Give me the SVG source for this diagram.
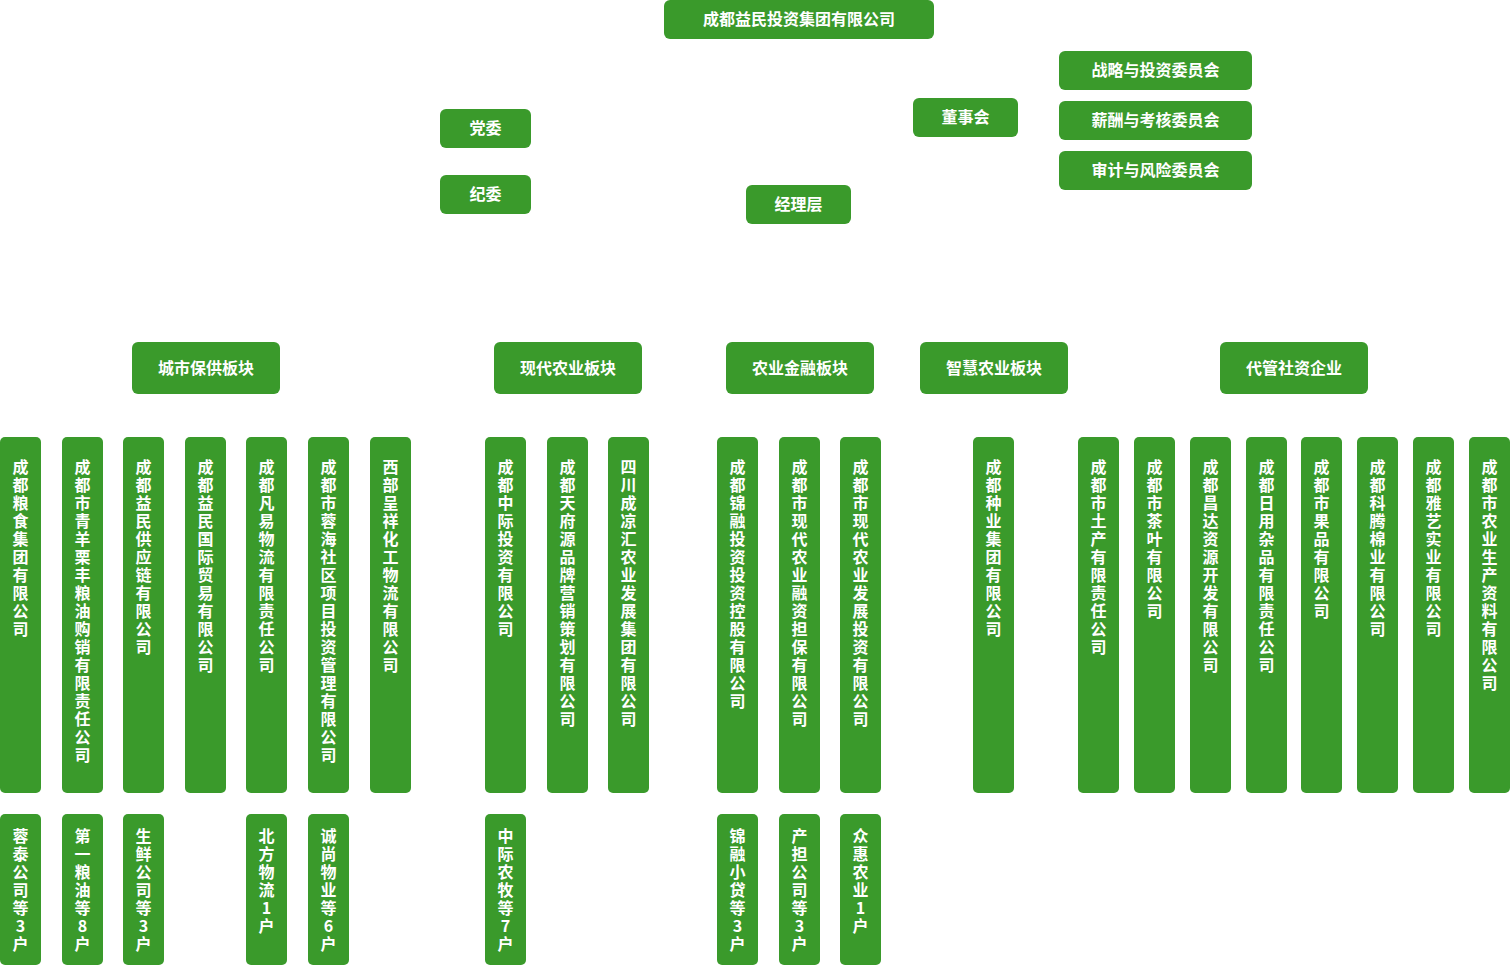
<svg xmlns="http://www.w3.org/2000/svg" width="1510" height="965" viewBox="0 0 1510 965">
<style>
.b{fill:#3a9a2b}
.t{fill:#fff;font-family:"Noto Sans CJK SC","Noto Sans",sans-serif;font-size:16px;font-weight:bold;text-anchor:middle;dominant-baseline:central}
.v{fill:#fff;font-family:"Noto Sans CJK SC","Noto Sans",sans-serif;font-size:16px;font-weight:bold;text-anchor:middle}
</style>
<rect width="1510" height="965" fill="#fff"/>
<g id="connectors"></g>
<g id="group"><rect class="b" x="664" y="0" width="270" height="39" rx="6"/><text class="t" x="799" y="17.5">成都益民投资集团有限公司</text></g>
<g id="dangwei"><rect class="b" x="440" y="109" width="91" height="39" rx="6"/><text class="t" x="485.5" y="126.5">党委</text></g>
<g id="jiwei"><rect class="b" x="440" y="175" width="91" height="39" rx="6"/><text class="t" x="485.5" y="192.5">纪委</text></g>
<g id="jingli"><rect class="b" x="746" y="185" width="105" height="39" rx="6"/><text class="t" x="798.5" y="202.5">经理层</text></g>
<g id="dongshi"><rect class="b" x="913" y="98" width="105" height="39" rx="6"/><text class="t" x="965.5" y="115.5">董事会</text></g>
<g id="zhanlue"><rect class="b" x="1059" y="51" width="193" height="39" rx="6"/><text class="t" x="1155.5" y="68.5">战略与投资委员会</text></g>
<g id="xinchou"><rect class="b" x="1059" y="101" width="193" height="39" rx="6"/><text class="t" x="1155.5" y="118.5">薪酬与考核委员会</text></g>
<g id="shenji"><rect class="b" x="1059" y="151" width="193" height="39" rx="6"/><text class="t" x="1155.5" y="168.5">审计与风险委员会</text></g>

<g id="seg1"><rect class="b" x="132" y="342" width="148" height="52" rx="6"/><text class="t" x="206" y="366.5">城市保供板块</text></g>
<g id="seg2"><rect class="b" x="494" y="342" width="148" height="52" rx="6"/><text class="t" x="568" y="366.5">现代农业板块</text></g>
<g id="seg3"><rect class="b" x="726" y="342" width="148" height="52" rx="6"/><text class="t" x="800" y="366.5">农业金融板块</text></g>
<g id="seg4"><rect class="b" x="920" y="342" width="148" height="52" rx="6"/><text class="t" x="994" y="366.5">智慧农业板块</text></g>
<g id="seg5"><rect class="b" x="1220" y="342" width="148" height="52" rx="6"/><text class="t" x="1294" y="366.5">代管社资企业</text></g>

<g id="c1"><rect class="b" x="0" y="437" width="41" height="356" rx="5"/><text class="v" x="20.5 20.5 20.5 20.5 20.5 20.5 20.5 20.5 20.5 20.5" y="473 491 509 527 545 563 581 599 617 635">成都粮食集团有限公司</text></g>
<g id="c2"><rect class="b" x="62" y="437" width="41" height="356" rx="5"/><text class="v" x="82.5 82.5 82.5 82.5 82.5 82.5 82.5 82.5 82.5 82.5 82.5 82.5 82.5 82.5 82.5 82.5 82.5" y="473 491 509 527 545 563 581 599 617 635 653 671 689 707 725 743 761">成都市青羊栗丰粮油购销有限责任公司</text></g>
<g id="c3"><rect class="b" x="123" y="437" width="41" height="356" rx="5"/><text class="v" x="143.5 143.5 143.5 143.5 143.5 143.5 143.5 143.5 143.5 143.5 143.5" y="473 491 509 527 545 563 581 599 617 635 653">成都益民供应链有限公司</text></g>
<g id="c4"><rect class="b" x="185" y="437" width="41" height="356" rx="5"/><text class="v" x="205.5 205.5 205.5 205.5 205.5 205.5 205.5 205.5 205.5 205.5 205.5 205.5" y="473 491 509 527 545 563 581 599 617 635 653 671">成都益民国际贸易有限公司</text></g>
<g id="c5"><rect class="b" x="246" y="437" width="41" height="356" rx="5"/><text class="v" x="266.5 266.5 266.5 266.5 266.5 266.5 266.5 266.5 266.5 266.5 266.5 266.5" y="473 491 509 527 545 563 581 599 617 635 653 671">成都凡易物流有限责任公司</text></g>
<g id="c6"><rect class="b" x="308" y="437" width="41" height="356" rx="5"/><text class="v" x="328.5 328.5 328.5 328.5 328.5 328.5 328.5 328.5 328.5 328.5 328.5 328.5 328.5 328.5 328.5 328.5 328.5" y="473 491 509 527 545 563 581 599 617 635 653 671 689 707 725 743 761">成都市蓉海社区项目投资管理有限公司</text></g>
<g id="c7"><rect class="b" x="370" y="437" width="41" height="356" rx="5"/><text class="v" x="390.5 390.5 390.5 390.5 390.5 390.5 390.5 390.5 390.5 390.5 390.5 390.5" y="473 491 509 527 545 563 581 599 617 635 653 671">西部呈祥化工物流有限公司</text></g>
<g id="c8"><rect class="b" x="485" y="437" width="41" height="356" rx="5"/><text class="v" x="505.5 505.5 505.5 505.5 505.5 505.5 505.5 505.5 505.5 505.5" y="473 491 509 527 545 563 581 599 617 635">成都中际投资有限公司</text></g>
<g id="c9"><rect class="b" x="547" y="437" width="41" height="356" rx="5"/><text class="v" x="567.5 567.5 567.5 567.5 567.5 567.5 567.5 567.5 567.5 567.5 567.5 567.5 567.5 567.5 567.5" y="473 491 509 527 545 563 581 599 617 635 653 671 689 707 725">成都天府源品牌营销策划有限公司</text></g>
<g id="c10"><rect class="b" x="608" y="437" width="41" height="356" rx="5"/><text class="v" x="628.5 628.5 628.5 628.5 628.5 628.5 628.5 628.5 628.5 628.5 628.5 628.5 628.5 628.5 628.5" y="473 491 509 527 545 563 581 599 617 635 653 671 689 707 725">四川成凉汇农业发展集团有限公司</text></g>
<g id="c11"><rect class="b" x="717" y="437" width="41" height="356" rx="5"/><text class="v" x="737.5 737.5 737.5 737.5 737.5 737.5 737.5 737.5 737.5 737.5 737.5 737.5 737.5 737.5" y="473 491 509 527 545 563 581 599 617 635 653 671 689 707">成都锦融投资投资控股有限公司</text></g>
<g id="c12"><rect class="b" x="779" y="437" width="41" height="356" rx="5"/><text class="v" x="799.5 799.5 799.5 799.5 799.5 799.5 799.5 799.5 799.5 799.5 799.5 799.5 799.5 799.5 799.5" y="473 491 509 527 545 563 581 599 617 635 653 671 689 707 725">成都市现代农业融资担保有限公司</text></g>
<g id="c13"><rect class="b" x="840" y="437" width="41" height="356" rx="5"/><text class="v" x="860.5 860.5 860.5 860.5 860.5 860.5 860.5 860.5 860.5 860.5 860.5 860.5 860.5 860.5 860.5" y="473 491 509 527 545 563 581 599 617 635 653 671 689 707 725">成都市现代农业发展投资有限公司</text></g>
<g id="c14"><rect class="b" x="973" y="437" width="41" height="356" rx="5"/><text class="v" x="993.5 993.5 993.5 993.5 993.5 993.5 993.5 993.5 993.5 993.5" y="473 491 509 527 545 563 581 599 617 635">成都种业集团有限公司</text></g>
<g id="c15"><rect class="b" x="1078" y="437" width="41" height="356" rx="5"/><text class="v" x="1098.5 1098.5 1098.5 1098.5 1098.5 1098.5 1098.5 1098.5 1098.5 1098.5 1098.5" y="473 491 509 527 545 563 581 599 617 635 653">成都市土产有限责任公司</text></g>
<g id="c16"><rect class="b" x="1134" y="437" width="41" height="356" rx="5"/><text class="v" x="1154.5 1154.5 1154.5 1154.5 1154.5 1154.5 1154.5 1154.5 1154.5" y="473 491 509 527 545 563 581 599 617">成都市茶叶有限公司</text></g>
<g id="c17"><rect class="b" x="1190" y="437" width="41" height="356" rx="5"/><text class="v" x="1210.5 1210.5 1210.5 1210.5 1210.5 1210.5 1210.5 1210.5 1210.5 1210.5 1210.5 1210.5" y="473 491 509 527 545 563 581 599 617 635 653 671">成都昌达资源开发有限公司</text></g>
<g id="c18"><rect class="b" x="1246" y="437" width="41" height="356" rx="5"/><text class="v" x="1266.5 1266.5 1266.5 1266.5 1266.5 1266.5 1266.5 1266.5 1266.5 1266.5 1266.5 1266.5" y="473 491 509 527 545 563 581 599 617 635 653 671">成都日用杂品有限责任公司</text></g>
<g id="c19"><rect class="b" x="1301" y="437" width="41" height="356" rx="5"/><text class="v" x="1321.5 1321.5 1321.5 1321.5 1321.5 1321.5 1321.5 1321.5 1321.5" y="473 491 509 527 545 563 581 599 617">成都市果品有限公司</text></g>
<g id="c20"><rect class="b" x="1357" y="437" width="41" height="356" rx="5"/><text class="v" x="1377.5 1377.5 1377.5 1377.5 1377.5 1377.5 1377.5 1377.5 1377.5 1377.5" y="473 491 509 527 545 563 581 599 617 635">成都科腾棉业有限公司</text></g>
<g id="c21"><rect class="b" x="1413" y="437" width="41" height="356" rx="5"/><text class="v" x="1433.5 1433.5 1433.5 1433.5 1433.5 1433.5 1433.5 1433.5 1433.5 1433.5" y="473 491 509 527 545 563 581 599 617 635">成都雅艺实业有限公司</text></g>
<g id="c22"><rect class="b" x="1469" y="437" width="41" height="356" rx="5"/><text class="v" x="1489.5 1489.5 1489.5 1489.5 1489.5 1489.5 1489.5 1489.5 1489.5 1489.5 1489.5 1489.5 1489.5" y="473 491 509 527 545 563 581 599 617 635 653 671 689">成都市农业生产资料有限公司</text></g>

<g id="s1"><rect class="b" x="0" y="814" width="41" height="151" rx="5"/><text class="v" x="20.5 20.5 20.5 20.5 20.5 20.5 20.5" y="842 860 878 896 914 932 950">蓉泰公司等3户</text></g>
<g id="s2"><rect class="b" x="62" y="814" width="41" height="151" rx="5"/><text class="v" x="82.5 82.5 82.5 82.5 82.5 82.5 82.5" y="842 860 878 896 914 932 950">第一粮油等8户</text></g>
<g id="s3"><rect class="b" x="123" y="814" width="41" height="151" rx="5"/><text class="v" x="143.5 143.5 143.5 143.5 143.5 143.5 143.5" y="842 860 878 896 914 932 950">生鲜公司等3户</text></g>
<g id="s4"><rect class="b" x="246" y="814" width="41" height="151" rx="5"/><text class="v" x="266.5 266.5 266.5 266.5 266.5 266.5" y="842 860 878 896 914 932">北方物流1户</text></g>
<g id="s5"><rect class="b" x="308" y="814" width="41" height="151" rx="5"/><text class="v" x="328.5 328.5 328.5 328.5 328.5 328.5 328.5" y="842 860 878 896 914 932 950">诚尚物业等6户</text></g>
<g id="s6"><rect class="b" x="485" y="814" width="41" height="151" rx="5"/><text class="v" x="505.5 505.5 505.5 505.5 505.5 505.5 505.5" y="842 860 878 896 914 932 950">中际农牧等7户</text></g>
<g id="s7"><rect class="b" x="717" y="814" width="41" height="151" rx="5"/><text class="v" x="737.5 737.5 737.5 737.5 737.5 737.5 737.5" y="842 860 878 896 914 932 950">锦融小贷等3户</text></g>
<g id="s8"><rect class="b" x="779" y="814" width="41" height="151" rx="5"/><text class="v" x="799.5 799.5 799.5 799.5 799.5 799.5 799.5" y="842 860 878 896 914 932 950">产担公司等3户</text></g>
<g id="s9"><rect class="b" x="840" y="814" width="41" height="151" rx="5"/><text class="v" x="860.5 860.5 860.5 860.5 860.5 860.5" y="842 860 878 896 914 932">众惠农业1户</text></g>
</svg>
